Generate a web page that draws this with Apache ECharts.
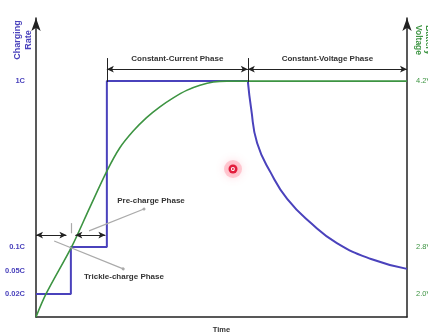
<!DOCTYPE html>
<html>
<head>
<meta charset="utf-8">
<script src="https://cdn.jsdelivr.net/npm/echarts@6/dist/echarts.min.js"></script>
<style>
  html, body { margin: 0; padding: 0; background: #fff; }
  #chart { width: 428px; height: 336px; }
</style>
</head>
<body>
<div id="chart"></div>
<script>
// schematic scale: time 0..100, height 0..100 (not real units)
const phaseBounds = [0, 9.4, 19.1, 57.1, 100]
const rateLabels = ["0.02C", "0.05C", "0.1C", "1C"]
const rateLevels = [7.7, 15.4, 23.4, 78.9]
const voltLabels = ["2.0V", "2.8V", "4.2V"]
const voltLevels = [7.7, 23.4, 78.9]

// charging current: trickle -> pre-charge -> constant current
const stepTime = [0, 9.4, 9.4, 19.1, 19.1, 57.1]
const stepRate = [7.7, 7.7, 23.4, 23.4, 78.9, 78.9]
// constant voltage phase: current decays
const cvTime = [57.1, 58.0, 59.6, 63.3, 67.7, 74.1, 81.1, 90.3, 100]
const cvRate = [78.9, 69.6, 58.2, 48.2, 39.5, 31.4, 24.7, 19.4, 16.1]
// battery voltage
const voltTime = [0, 2.7, 9.7, 14.3, 19.1, 22.6, 26.2, 29.8, 33.4, 37.0, 40.6, 44.2, 47.8, 51.4, 55.0, 100]
const voltValues = [0, 7.7, 23.7, 36.1, 48.8, 56.6, 62.2, 66.7, 70.3, 73.3, 75.8, 77.5, 78.6, 78.9, 78.9, 78.9]

const BLUE = "#4a42bc"
const GREEN = "#3d9442"
const FONT = "Liberation Sans"

const chart = echarts.init(document.getElementById("chart"))

const zip = (xs, ys) => xs.map((x, i) => [x, ys[i]])
const phaseText = { color: "#333", fontFamily: FONT, fontWeight: "bold", fontSize: 8 }
const noSym = { symbol: "none" }

const option = {
  animation: false,
  grid: { left: 36, right: 21, top: 18, bottom: 19, containLabel: false, outerBoundsMode: "none" },
  xAxis: {
    type: "value", min: 0, max: 100,
    axisLine: { lineStyle: { color: "#222", width: 1.5 } },
    axisTick: { show: false }, axisLabel: { show: false }, splitLine: { show: false },
    name: "Time", nameLocation: "middle", nameGap: 9,
    nameTextStyle: { color: "#333", fontFamily: FONT, fontWeight: "bold", fontSize: 7.5 }
  },
  yAxis: [
    {
      type: "value", min: 0, max: 100, position: "left",
      axisLine: { show: true, symbol: ["none", "arrow"], symbolSize: [7, 13], lineStyle: { color: "#222", width: 1.5 } },
      axisTick: { show: false }, splitLine: { show: false },
      axisLabel: {
        customValues: rateLevels, margin: 11,
        formatter: (v) => rateLabels[rateLevels.indexOf(v)],
        color: BLUE, fontFamily: FONT, fontWeight: "bold", fontSize: 7.5
      }
    },
    {
      type: "value", min: 0, max: 100, position: "right",
      axisLine: { show: true, symbol: ["none", "arrow"], symbolSize: [7, 13], lineStyle: { color: "#222", width: 1.5 } },
      axisTick: { show: false }, splitLine: { show: false },
      axisLabel: {
        customValues: voltLevels, margin: 9,
        formatter: (v) => voltLabels[voltLevels.indexOf(v)],
        color: GREEN, fontFamily: FONT, fontSize: 7.5
      }
    }
  ],
  series: [
    {
      name: "rate", type: "line", data: zip(stepTime, stepRate),
      showSymbol: false, lineStyle: { color: BLUE, width: 2 }, z: 2,
      markLine: {
        silent: true, symbol: ["arrow", "arrow"], symbolSize: [5, 7],
        lineStyle: { color: "#222", width: 1, type: "solid" },
        label: { show: false },
        data: [
          [{ coord: [phaseBounds[2], 82.9],
             label: { show: true, position: "middle", distance: 6, formatter: "Constant-Current Phase", ...phaseText } },
           { coord: [phaseBounds[3], 82.9] }],
          [{ coord: [phaseBounds[3], 82.9],
             label: { show: true, position: "middle", distance: 6, formatter: "Constant-Voltage Phase", ...phaseText } },
           { coord: [phaseBounds[4], 82.9] }],
          [{ coord: [phaseBounds[0], 27.4] }, { coord: [phaseBounds[1] - 1.2, 27.4] }],
          [{ coord: [phaseBounds[1] + 1.2, 27.4] }, { coord: [phaseBounds[2] - 0.4, 27.4] }],
          [{ coord: [phaseBounds[2], 86.6], ...noSym }, { coord: [phaseBounds[2], 78.6], ...noSym }],
          [{ coord: [phaseBounds[3], 86.6], ...noSym }, { coord: [phaseBounds[3], 78.6], ...noSym }]
        ]
      }
    },
    {
      name: "rateCV", type: "line", data: zip(cvTime, cvRate),
      smooth: 0.5,
      showSymbol: false, lineStyle: { color: BLUE, width: 2 }, z: 2
    },
    {
      name: "voltage", type: "line", data: zip(voltTime, voltValues), yAxisIndex: 1,
      smooth: 0.3,
      showSymbol: false, lineStyle: { color: GREEN, width: 1.6 }, z: 3,
      markLine: {
        silent: true, symbol: ["none", "circle"], symbolSize: 3,
        lineStyle: { color: "#aaa", width: 1.2, type: "solid" },
        label: { show: false },
        data: [
          [{ coord: [14.3, 28.8] }, { coord: [29.1, 36.1] }],
          [{ coord: [4.9, 25.4] }, { coord: [23.5, 16.1] }],
          [{ coord: [9.4, 31.4], ...noSym }, { coord: [9.4, 28.0], ...noSym }]
        ]
      },
      markPoint: {
        silent: true, symbol: "circle", symbolSize: 0,
        label: { show: true, position: "inside", ...phaseText },
        data: [
          { coord: [31.0, 38.8], value: "Pre-charge Phase" },
          { coord: [23.7, 13.4], value: "Trickle-charge Phase" }
        ]
      }
    }
  ],
  graphic: [
    {
      type: "text", x: 23, y: 40, rotation: Math.PI / 2,
      style: { text: "Charging\nRate", fill: BLUE, font: "bold 9px " + FONT, align: "center", verticalAlign: "middle", lineHeight: 11 }
    },
    {
      type: "text", x: 423, y: 40, rotation: -Math.PI / 2,
      style: { text: "Battery\nVoltage", fill: GREEN, font: "bold 8.5px " + FONT, align: "center", verticalAlign: "middle", lineHeight: 10 }
    },
    { type: "circle", shape: { cx: 233, cy: 169, r: 9 }, style: { fill: "rgba(255,120,140,0.35)", shadowBlur: 8, shadowColor: "rgba(255,90,120,0.6)" } },
    { type: "circle", shape: { cx: 233, cy: 169, r: 4.5 }, style: { fill: "#e21d3c" } },
    { type: "text", x: 233, y: 169, style: { text: "o", fill: "#fff", font: "bold 7px sans-serif", align: "center", verticalAlign: "middle" } }
  ]
}

chart.setOption(option)
</script>
</body>
</html>
